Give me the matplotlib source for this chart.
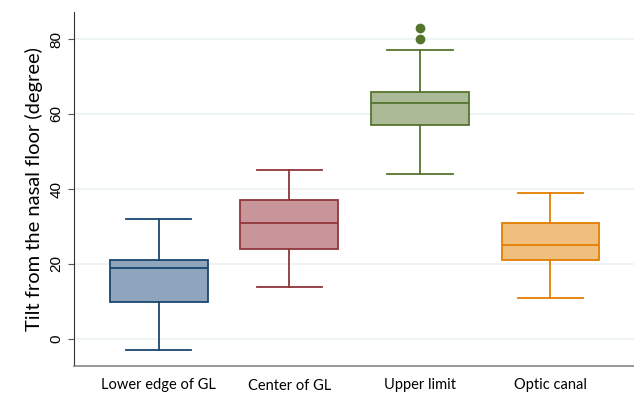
import matplotlib
matplotlib.use('Agg')
import matplotlib.pyplot as plt

categories = ['Lower edge of GL', 'Center of GL', 'Upper limit', 'Optic canal']
whislo = [-3, 14, 44, 11]
q1 = [10, 24, 57, 21]
med = [19, 31, 63, 25]
q3 = [21, 37, 66, 31]
whishi = [32, 45, 77, 39]
outliers = [[], [], [80, 83], []]

edge_colors = ['#1a476f', '#90353b', '#55752f', '#e37e00']
fill_colors = ['#8ea5bd', '#c8969a', '#adba97', '#f1bf7d']

plt.rcParams['font.family'] = ['Lato', 'DejaVu Sans']

fig = plt.figure(figsize=(6.34, 3.94), dpi=100)
ax = fig.add_axes([74 / 634, 28 / 394, 560 / 634, 354 / 394])

stats = []
for i, name in enumerate(categories):
    stats.append({'label': name, 'whislo': whislo[i], 'q1': q1[i], 'med': med[i],
                  'q3': q3[i], 'whishi': whishi[i], 'fliers': outliers[i]})

positions = list(range(1, len(categories) + 1))
bp = ax.bxp(stats, positions=positions, widths=0.75, patch_artist=True,
            showfliers=True, capwidths=0.5)

for i, c in enumerate(edge_colors):
    bp['boxes'][i].set_facecolor(fill_colors[i])
    bp['boxes'][i].set_edgecolor(c)
    bp['boxes'][i].set_linewidth(1.3)
    bp['medians'][i].set_color(c)
    bp['medians'][i].set_linewidth(1.3)
    for ln in bp['whiskers'][2 * i:2 * i + 2] + bp['caps'][2 * i:2 * i + 2]:
        ln.set_color(c)
        ln.set_linewidth(1.3)
    bp['fliers'][i].set_marker('o')
    bp['fliers'][i].set_markerfacecolor(c)
    bp['fliers'][i].set_markeredgecolor(c)
    bp['fliers'][i].set_markersize(6)

ax.set_xlim(0.35, 4.64)
ax.set_ylim(-7.2, 87.2)
ax.set_yticks([0, 20, 40, 60, 80])
ax.set_xticks(positions)
ax.set_xticklabels(categories, fontsize=10.5)
ax.tick_params(axis='x', length=0, pad=9)
ax.tick_params(axis='y', length=4, width=0.8, color='#555555', labelsize=11)
for lbl in ax.get_yticklabels():
    lbl.set_rotation(90)
    lbl.set_va('center')
    lbl.set_family(['Liberation Sans', 'DejaVu Sans'])

ax.set_ylabel('Tilt from the nasal floor (degree)', fontsize=14.5, labelpad=5)
ax.grid(axis='y', color='#eaf2f3', linewidth=1.2)
ax.set_axisbelow(True)

for s in ['top', 'right']:
    ax.spines[s].set_visible(False)
ax.spines['left'].set_color('#333333')
ax.spines['bottom'].set_color('#888888')
ax.spines['bottom'].set_linewidth(1.2)

fig.savefig('out.png', dpi=100)
